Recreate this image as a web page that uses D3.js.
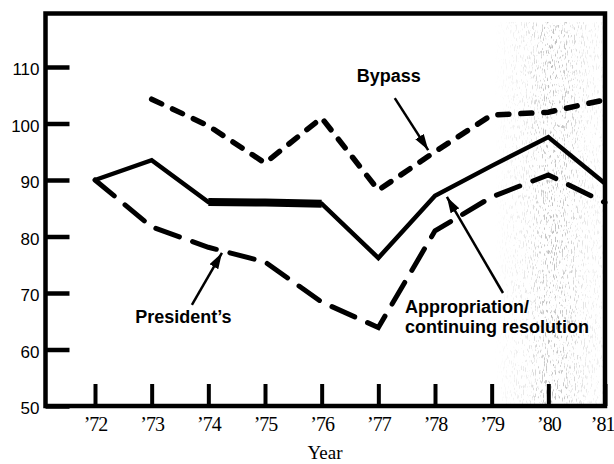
<!DOCTYPE html>
<html>
<head>
<meta charset="utf-8">
<script src="https://cdn.jsdelivr.net/npm/d3@7"></script>
<style>
  html, body { margin: 0; padding: 0; background: #fff; }
  svg { display: block; }
</style>
</head>
<body>
<script>
// ---- Data ----
const years = [1972, 1973, 1974, 1975, 1976, 1977, 1978, 1979, 1980, 1981];
const yTicks = [50, 60, 70, 80, 90, 100, 110];
const appropriation = [90, 93.5, 86.1, 86.0, 85.8, 76.2, 87.2, 92.5, 97.6, 89.4];
const presidents    = [90, 81.7, 78.1, 75.5, 68.4, 63.9, 81.0, 87.0, 90.9, 86.0];
const bypassYears   = [1973, 1974, 1975, 1976, 1977, 1978, 1979, 1980, 1981];
const bypass        = [104.3, 99.6, 93.0, 101.0, 88.2, 95.0, 101.5, 102.0, 104.2];
const labels = [
  { lines: ["Bypass"], year: 1976.62, value: 107.3 },
  { lines: ["President\u2019s"], year: 1972.71, value: 64.7 },
  { lines: ["Appropriation/", "continuing resolution"], year: 1977.47, value: 66.5 }
];
const arrows = [
  { from: [1977.29, 104.5], to: [1977.88, 95.3] },
  { from: [1973.71, 67.9],  to: [1974.24, 77.1] },
  { from: [1979.20, 70.0],  to: [1978.21, 87.0] }
];

const W = 614, H = 464;
const svg = d3.select("body").append("svg").attr("width", W).attr("height", H);
svg.append("rect").attr("width", W).attr("height", H).attr("fill", "#fff");

const x = d3.scaleLinear().domain([1972, 1981]).range([95, 605]);
const y = d3.scaleLinear().domain([50, 110]).range([406, 67]);
const frame = { left: 45.5, right: 605, top: 13.5, bottom: 406 };

const defs = svg.append("defs");
// scanner speckle
const f = defs.append("filter").attr("id", "speck").attr("x", 0).attr("y", 0).attr("width", "100%").attr("height", "100%");
f.append("feTurbulence").attr("type", "fractalNoise").attr("baseFrequency", "0.9 0.2").attr("numOctaves", 2).attr("seed", 7).attr("result", "t");
f.append("feColorMatrix").attr("in", "t").attr("type", "matrix")
  .attr("values", "0 0 0 0 0.3  0 0 0 0 0.3  0 0 0 0 0.3  7 0 0 0 -3.95");
const grad = defs.append("linearGradient").attr("id", "band").attr("x1", 0).attr("x2", 1).attr("y1", 0).attr("y2", 0);
[[0, 0], [0.3, 0.4], [0.5, 1], [0.65, 0.8], [0.85, 0.3], [1, 0.2]].forEach(([o, a]) =>
  grad.append("stop").attr("offset", o).attr("stop-color", "#fff").attr("stop-opacity", a));
const mask = defs.append("mask").attr("id", "bandMask");
mask.append("rect").attr("x", 495).attr("y", 22).attr("width", 110).attr("height", 384).attr("fill", "url(#band)");
svg.append("g").attr("mask", "url(#bandMask)")
  .append("rect").attr("x", 495).attr("y", 22).attr("width", 110).attr("height", 384)
  .attr("filter", "url(#speck)").attr("opacity", 0.6);

defs.append("marker").attr("id", "head").attr("markerUnits", "userSpaceOnUse")
  .attr("viewBox", "0 0 16 10").attr("refX", 16).attr("refY", 5)
  .attr("markerWidth", 16).attr("markerHeight", 10).attr("orient", "auto")
  .append("path").attr("d", "M0,0 L16,5 L0,10 Z").attr("fill", "#000");

// axes
const yAxis = svg.append("g").attr("transform", `translate(${frame.left},0)`)
  .call(d3.axisLeft(y).tickValues(yTicks).tickSize(-24).tickPadding(6).tickFormat(d3.format("d")));
yAxis.select(".domain").remove();
yAxis.selectAll("line").attr("stroke", "#000").attr("stroke-width", 4.5);
yAxis.selectAll("text").attr("font-family", "'Liberation Sans', Arial, sans-serif")
  .attr("font-size", 17).attr("fill", "#000").attr("dy", "0.45em");

const xAxis = svg.append("g").attr("transform", `translate(0,${frame.bottom})`)
  .call(d3.axisBottom(x).tickValues(years).tickSize(-22).tickPadding(11)
    .tickFormat(d => "\u2019" + String(d).slice(2)));
xAxis.select(".domain").remove();
xAxis.selectAll("line").attr("stroke", "#000").attr("stroke-width", 4);
xAxis.selectAll("text").attr("font-family", "'Liberation Serif', 'Times New Roman', serif")
  .attr("font-size", 20).attr("letter-spacing", -1).attr("fill", "#000")
  .filter(d => d === 1981).attr("text-anchor", "end").attr("x", 9);

svg.append("text").attr("x", 325).attr("y", 459).attr("text-anchor", "middle")
  .attr("font-family", "'Liberation Serif', 'Times New Roman', serif").attr("font-size", 19).text("Year");

// frame
svg.append("rect").attr("x", frame.left).attr("y", frame.top)
  .attr("width", frame.right - frame.left).attr("height", frame.bottom - frame.top)
  .attr("fill", "none").attr("stroke", "#000").attr("stroke-width", 4.5);

// lines
const line = d3.line().x(d => x(d[0])).y(d => y(d[1]));
const appData = years.map((yr, i) => [yr, appropriation[i]]);
svg.append("path").attr("d", line(appData)).attr("fill", "none").attr("stroke", "#000")
  .attr("stroke-width", 4.5).attr("stroke-linejoin", "miter");
svg.append("path").attr("d", line(appData.slice(2, 5))).attr("fill", "none").attr("stroke", "#000")
  .attr("stroke-width", 8);

svg.append("path").attr("d", line(years.map((yr, i) => [yr, presidents[i]])))
  .attr("fill", "none").attr("stroke", "#000").attr("stroke-width", 5)
  .attr("stroke-linecap", "round").attr("stroke-dasharray", "25,14");

svg.append("path").attr("d", line(bypassYears.map((yr, i) => [yr, bypass[i]])))
  .attr("fill", "none").attr("stroke", "#000").attr("stroke-width", 5.5)
  .attr("stroke-linecap", "round").attr("stroke-dasharray", "11,12");

// arrows
svg.selectAll(".arrow").data(arrows).enter().append("line")
  .attr("x1", d => x(d.from[0])).attr("y1", d => y(d.from[1]))
  .attr("x2", d => x(d.to[0])).attr("y2", d => y(d.to[1]))
  .attr("stroke", "#000").attr("stroke-width", 2.5).attr("marker-end", "url(#head)");

// labels
labels.forEach(l => {
  const t = svg.append("text").attr("x", x(l.year)).attr("y", y(l.value))
    .attr("font-family", "'Liberation Sans', Arial, sans-serif").attr("font-weight", "bold")
    .attr("font-size", 18).attr("fill", "#000");
  l.lines.forEach((s, i) => t.append("tspan").attr("x", x(l.year)).attr("dy", i ? 20 : 0).text(s));
});
</script>
</body>
</html>
